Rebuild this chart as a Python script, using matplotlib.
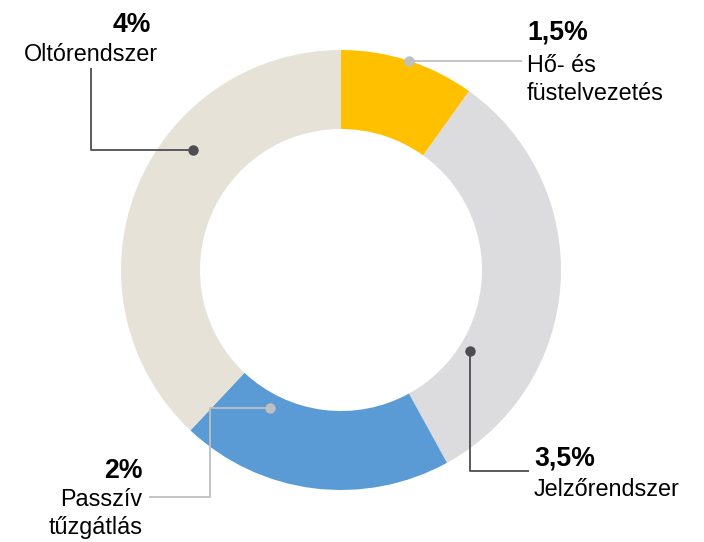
import matplotlib
matplotlib.use("Agg")
import matplotlib.pyplot as plt

# Data (shares) and labels
categories = ["Hő- és\nfüstelvezetés", "Jelzőrendszer", "Passzív\ntűzgátlás", "Oltórendszer"]
value_labels = ["1,5%", "3,5%", "2%", "4%"]
shares = [9.9, 32.1, 20.0, 38.0]
colors = ["#FFC000", "#DCDBDE", "#5B9BD5", "#E6E2D8"]

W, H = 704, 542
fig = plt.figure(figsize=(W / 100, H / 100), dpi=100)
ax = fig.add_axes([0, 0, 1, 1])

def py(y):
    return H - y

cx, cy, R = 341, 270, 220
ax.pie(shares, colors=colors, startangle=90, counterclock=False,
       center=(cx, py(cy)), radius=R,
       wedgeprops=dict(width=79, edgecolor="none", linewidth=0))
ax.set_xlim(0, W)
ax.set_ylim(0, H)
ax.set_aspect("equal")
ax.axis("off")

light = "#BFBFBF"
dark = "#4F4D52"
font = "Liberation Sans"
fs_b = 19.2
fs_n = 16.8

def leader(pts, color):
    xs = [p[0] for p in pts]
    ys = [py(p[1]) for p in pts]
    ax.plot(xs, ys, color=color, lw=1.3, solid_capstyle="butt", zorder=3)
    ax.plot(xs[0], ys[0], "o", color=color, ms=7.5, mec="none", zorder=4)

# Hő- és füstelvezetés
leader([(409, 61), (522, 61)], light)
ax.text(527, py(40), value_labels[0], fontsize=fs_b, fontweight="bold", family=font, ha="left", va="baseline")
ax.text(527, py(71.5), "Hő- és", fontsize=fs_n, family=font, ha="left", va="baseline")
ax.text(527, py(100), "füstelvezetés", fontsize=fs_n, family=font, ha="left", va="baseline")

# Jelzőrendszer
leader([(470, 351), (470, 471), (529, 471)], dark)
ax.text(534, py(465), value_labels[1], fontsize=fs_b, fontweight="bold", family=font, ha="left", va="baseline")
ax.text(534, py(496.5), categories[1], fontsize=fs_n, family=font, ha="left", va="baseline")

# Passzív tűzgátlás
leader([(270, 408), (210, 408), (210, 496.5), (149, 496.5)], light)
ax.text(143, py(477.5), value_labels[2], fontsize=fs_b, fontweight="bold", family=font, ha="right", va="baseline")
ax.text(142.5, py(506.5), "Passzív", fontsize=fs_n, family=font, ha="right", va="baseline")
ax.text(142.5, py(534), "tűzgátlás", fontsize=fs_n, family=font, ha="right", va="baseline")

# Oltórendszer
leader([(193, 150), (91, 150), (91, 68)], dark)
ax.text(132, py(32), value_labels[3], fontsize=fs_b, fontweight="bold", family=font, ha="center", va="baseline")
ax.text(91, py(61), categories[3], fontsize=fs_n, family=font, ha="center", va="baseline")

fig.savefig("out.png", dpi=100)
